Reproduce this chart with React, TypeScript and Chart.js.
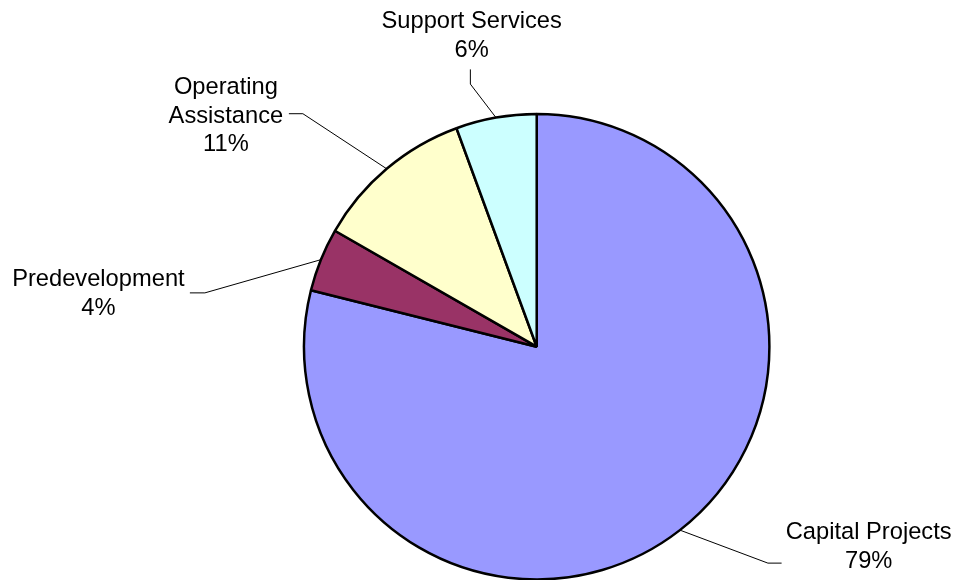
import React, { useEffect, useRef } from "react";
import { Chart, registerables } from "chart.js";

Chart.register(...registerables);

const categories = ["Capital Projects", "Predevelopment", "Operating Assistance", "Support Services"];
const values = [78.9, 4.4, 11.1, 5.6];
const colors = ["#9999FF", "#993366", "#FFFFCC", "#CCFFFF"];
// label text lines (category text split as in the reference)
const labelLines = [["Capital Projects"], ["Predevelopment"], ["Operating", "Assistance"], ["Support Services"]];

// leader / label layout relative to each slice's outer mid-point
const labelLayout = [
  { elbow: [88, 33], tail: [101.7, 33], text: [188.8, 9.3] },
  { elbow: [-116, 33.2], tail: [-131, 33.2], text: [-222.5, 26.2] },
  { elbow: [-83.8, -55.1], tail: [-97.8, -55.1], text: [-160.8, -75.1] },
  { elbow: [-25.6, -33.5], tail: [-25.6, -48.2], text: [-24.3, -89.5] },
];

const leaderPlugin = {
  id: "leaderLabels",
  afterDatasetsDraw(chart: any) {
    const ctx = chart.ctx;
    const meta = chart.getDatasetMeta(0);
    const data = chart.data.datasets[0].data as number[];
    const total = data.reduce((a, b) => a + b, 0);
    ctx.save();
    meta.data.forEach((arc: any, i: number) => {
      const p = arc.getProps(["x", "y", "startAngle", "endAngle", "outerRadius"], true);
      const mid = (p.startAngle + p.endAngle) / 2;
      const mx = p.x + Math.cos(mid) * p.outerRadius;
      const my = p.y + Math.sin(mid) * p.outerRadius;
      const lay = labelLayout[i];
      ctx.strokeStyle = "#000";
      ctx.lineWidth = 1;
      ctx.beginPath();
      ctx.moveTo(mx, my);
      ctx.lineTo(mx + lay.elbow[0], my + lay.elbow[1]);
      ctx.lineTo(mx + lay.tail[0], my + lay.tail[1]);
      ctx.stroke();
      const lines = [...labelLines[i], Math.round((data[i] / total) * 100) + "%"];
      ctx.fillStyle = "#000";
      ctx.font = '23.7px "Liberation Sans", Arial, sans-serif';
      ctx.textAlign = "center";
      ctx.textBaseline = "alphabetic";
      const tx = mx + lay.text[0];
      const ty = my + lay.text[1];
      lines.forEach((ln, k) => ctx.fillText(ln, tx, ty + k * 28.8));
    });
    ctx.restore();
  },
};

export default function App() {
  const ref = useRef<HTMLCanvasElement>(null);
  useEffect(() => {
    if (!ref.current) return;
    const chart = new Chart(ref.current, {
      type: "pie",
      data: {
        labels: categories,
        datasets: [
          {
            data: values,
            backgroundColor: colors,
            borderColor: "#000",
            borderWidth: 2.5,
            radius: 232.7,
          } as any,
        ],
      },
      options: {
        animation: false,
        responsive: false,
        layout: { padding: { left: 116.4, right: 0, top: 113.4, bottom: 0 } },
        plugins: { legend: { display: false }, tooltip: { enabled: false } },
      },
      plugins: [leaderPlugin],
    });
    return () => chart.destroy();
  }, []);
  return (
    <div style={{ position: "absolute", left: 0, top: 0, width: 957, height: 580, background: "#fff" }}>
      <canvas ref={ref} width={957} height={580} />
    </div>
  );
}
